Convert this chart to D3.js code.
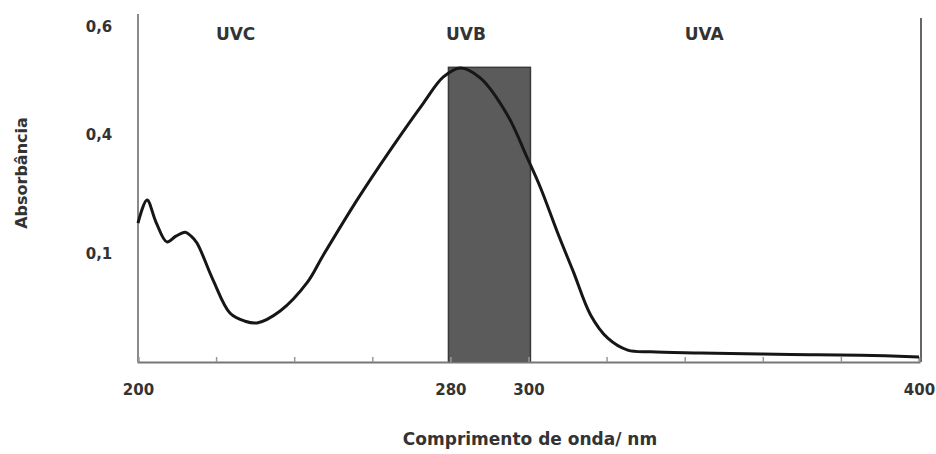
<!DOCTYPE html>
<html>
<head>
<meta charset="utf-8">
<script src="https://cdn.jsdelivr.net/npm/d3@7"></script>
<style>
  body { margin: 0; background: #fff; }
  svg { display: block; }
  text { font-family: "DejaVu Sans", Verdana, sans-serif; font-weight: bold; fill: #333; }
</style>
</head>
<body>
<svg id="chart" width="936" height="454"></svg>
<script>
// absorption spectrum (nm, absorbance)
var wavelength = [200, 202.3, 204.6, 207.4, 209.7, 212.1, 213.6, 215.1, 219.2, 223.6, 227.4, 230.5,
    236.4, 243.3, 247.4, 256.2, 264.6, 273.1, 278.2, 282.6, 287.7, 294.6, 299.7, 303.1, 307.4,
    311.5, 315.9, 320.3, 325.4, 331.3, 344.1, 359.5, 372, 385.1, 400];
var absorbance = [0.245, 0.286, 0.247, 0.212, 0.222, 0.229, 0.222, 0.210, 0.145, 0.086, 0.072, 0.069,
    0.090, 0.140, 0.188, 0.287, 0.374, 0.457, 0.503, 0.519, 0.501, 0.436, 0.360, 0.307, 0.229,
    0.159, 0.083, 0.042, 0.021, 0.018, 0.016, 0.014, 0.013, 0.012, 0.009];

// UV bands
var bandNames = ['UVC', 'UVB', 'UVA'];
var bandCenters = [225, 284, 345];
var uvbRange = [279.5, 300.5];
var uvbTop = 0.52;

// axis ticks
var xTicks = [200, 220, 240, 260, 280, 300, 320, 340, 360, 380, 400];
var xLabelled = [200, 280, 300, 400];
var yTickAt = [0.19, 0.4, 0.59];
var yTickLabels = ['0,1', '0,4', '0,6'];

var svg = d3.select('#chart');
// note: "top" is taken by window.top, so plot edges get their own names
var plotLeft = 138, plotRight = 919, plotTop = 22, plotBottom = 362;

var x = d3.scaleLinear().domain([200, 400]).range([plotLeft, plotRight]);
var y = d3.scaleLinear().domain([0, 0.6]).range([plotBottom, plotTop]);

var points = wavelength.map(function (w, i) { return [w, absorbance[i]]; });

// shaded UVB band
svg.append('rect')
    .attr('x', x(uvbRange[0]))
    .attr('y', y(uvbTop))
    .attr('width', x(uvbRange[1]) - x(uvbRange[0]))
    .attr('height', y(0) - y(uvbTop))
    .attr('fill', '#5b5b5b')
    .attr('stroke', '#3a3a3a')
    .attr('stroke-width', 1.5);

// left axis line
svg.append('line')
    .attr('x1', plotLeft).attr('x2', plotLeft)
    .attr('y1', 14).attr('y2', plotBottom)
    .attr('stroke', '#8a8a8a').attr('stroke-width', 2);

// right frame line
svg.append('line')
    .attr('x1', plotRight + 2).attr('x2', plotRight + 2)
    .attr('y1', 18).attr('y2', plotBottom)
    .attr('stroke', '#666').attr('stroke-width', 2);

// bottom axis
var xAxis = d3.axisBottom(x)
    .tickValues(xTicks)
    .tickSize(-5)
    .tickPadding(22)
    .tickFormat(function (d) { return xLabelled.indexOf(d) >= 0 ? d : ''; });

var gx = svg.append('g')
    .attr('transform', 'translate(0,' + plotBottom + ')')
    .call(xAxis);
gx.select('.domain').attr('stroke', '#777').attr('stroke-width', 2);
gx.selectAll('.tick line').attr('stroke', '#999').attr('stroke-width', 1.5);
gx.selectAll('.tick text')
    .style('font-size', '15px')
    .style('font-family', '"DejaVu Sans", Verdana, sans-serif')
    .attr('fill', '#333');

// y tick labels (no tick marks in the original)
svg.selectAll('.ylab')
    .data(yTickAt)
    .enter()
    .append('text')
    .attr('class', 'ylab')
    .attr('x', 99)
    .attr('y', function (d) { return y(d); })
    .attr('text-anchor', 'middle')
    .attr('dominant-baseline', 'middle')
    .style('font-size', '15px')
    .text(function (d, i) { return yTickLabels[i]; });

// spectrum curve
var line = d3.line()
    .x(function (d) { return x(d[0]); })
    .y(function (d) { return y(d[1]); })
    .curve(d3.curveCatmullRom.alpha(0.5));

svg.append('path')
    .datum(points)
    .attr('d', line)
    .attr('fill', 'none')
    .attr('stroke', '#161616')
    .attr('stroke-width', 3)
    .attr('stroke-linejoin', 'round');

// band names
svg.selectAll('.band')
    .data(bandNames)
    .enter()
    .append('text')
    .attr('class', 'band')
    .attr('x', function (d, i) { return x(bandCenters[i]); })
    .attr('y', 35)
    .attr('text-anchor', 'middle')
    .attr('dominant-baseline', 'middle')
    .style('font-size', '17px')
    .text(function (d) { return d; });

// axis titles
svg.append('text')
    .attr('x', 530)
    .attr('y', 440)
    .attr('text-anchor', 'middle')
    .attr('dominant-baseline', 'middle')
    .style('font-size', '17px')
    .text('Comprimento de onda/ nm');

svg.append('text')
    .attr('transform', 'translate(22,173) rotate(-90)')
    .attr('text-anchor', 'middle')
    .attr('dominant-baseline', 'middle')
    .style('font-size', '16px')
    .text('Absorbância');
</script>
</body>
</html>
